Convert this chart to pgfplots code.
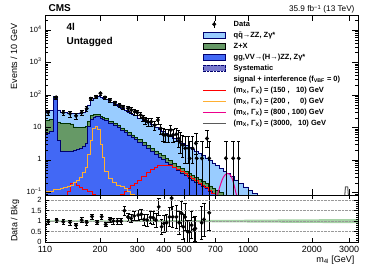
\documentclass[border=0pt]{standalone}
\usepackage{pgfplots}
\usepackage{pgfplotstable}
\pgfplotsset{compat=1.18}
\usepackage{fontspec}
\setmainfont{Liberation Sans}
\definecolor{qqc}{RGB}{153,204,255}
\definecolor{zxc}{RGB}{102,153,102}
\definecolor{ggc}{RGB}{66,104,245}
\definecolor{navyc}{RGB}{0,0,110}
\definecolor{sysc}{RGB}{120,120,205}
\definecolor{orngc}{RGB}{255,175,50}
\definecolor{bandc}{RGB}{165,210,165}
\definecolor{graysig}{RGB}{90,90,90}

\pgfplotstableread{
m T G B R O
110 0.001 0.001 0.001 0.001 0.001
110 32 17 6.8 0.05 0.11
115 33 18 7.5 0.05 0.11
120 92 86 80 0.05 0.12
126 35 15 4.0 0.05 0.12
130 30 13.7 1.9 0.05 0.13
135 30 13.5 1.8 0.07 0.14
140 28 13.5 1.8 0.11 0.15
145 28 13.0 1.9 0.19 0.17
150 27 10.5 2.0 0.20 0.20
155 27 10.3 2.1 0.16 0.24
160 28 10.3 2.3 0.14 0.30
165 30 10.5 2.6 0.12 0.40
170 36 11 3.2 0.12 0.60
175 50 16 11 0.11 1.5
180 68 23 18 0.11 4.0
185 80 25 20.5 0.09 9.5
190 88 26 21.5 0.08 10.5
195 92 26 21.5 0.05 9.0
200 86 22.5 19.6 0.05 3.0
205 80 21.0 18.3 0.05 1.2
210 71.7 18.7 16.2 0.05 0.45
220 60.9 15.8 13.8 0.05 0.28
230 52.1 13.6 11.8 0.05 0.20
240 44.9 11.6 10.1 0.05 0.17
250 39.0 9.72 8.38 0.09 0.15
260 33.8 8.20 7.02 0.11 0.13
270 29.6 6.92 5.88 0.13 0.11
280 26.2 5.96 4.99 0.16 0.09
290 23.1 5.10 4.24 0.19 0.07
300 19.9 4.21 3.48 0.24 0.05
315 16.8 3.43 2.79 0.31 0.05
330 14.3 2.81 2.26 0.40 0.05
345 12.2 2.31 1.84 0.50 0.05
360 10.4 1.92 1.51 0.59 0.05
375 9.12 1.61 1.25 0.66 0.05
390 7.80 1.36 1.05 0.69 0.05
405 6.68 1.15 0.88 0.69 0.05
420 5.67 0.96 0.727 0.66 0.05
440 4.72 0.78 0.587 0.60 0.05
460 3.95 0.645 0.479 0.53 0.05
480 3.34 0.544 0.401 0.45 0.05
500 2.85 0.462 0.336 0.38 0.05
520 2.42 0.393 0.283 0.32 0.05
540 2.09 0.338 0.241 0.27 0.05
560 1.81 0.294 0.207 0.23 0.05
580 1.57 0.255 0.179 0.195 0.05
600 1.36 0.220 0.154 0.165 0.05
625 1.16 0.187 0.131 0.14 0.05
650 0.986 0.160 0.112 0.115 0.05
675 0.82 0.137 0.0966 0.095 0.05
700 0.677 0.118 0.0826 0.08 0.05
730 0.556 0.0993 0.0697 0.065 0.05
760 0.455 0.0844 0.06 0.05 0.05
790 0.379 0.07 0.05 0.04 0.04
820 0.306 0.06 0.04 0.04 0.04
860 0.244 0.05 0.035 0.04 0.04
900 0.192 0.04 0.03 0.04 0.04
950 0.149 0.035 0.025 0.04 0.04
1000 0.116 0.03 0.02 0.04 0.04
1050 0.0918 0.025 0.018 0.04 0.04
1100 0.0738 0.02 0.015 0.04 0.04
1150 0.06 0.015 0.012 0.04 0.04
1200 0.06 0.015 0.012 0.04 0.04
1200 0.001 0.001 0.001 0.001 0.001
}\hist

\pgfplotsset{
  every axis/.append style={
    scale only axis, width=313pt,
    tick align=inside, axis on top,
    major tick length=6pt, minor tick length=3pt,
    axis line style={line width=0.8pt},
    every tick/.style={black, line width=0.5pt},
    /pgf/number format/assume math mode=true,
  },
}

\begin{document}
\begin{tikzpicture}
\path[use as bounding box] (-45pt,-73pt) rectangle (329pt,195pt);
\begin{axis}[
  name=top, at={(0pt,0pt)}, anchor=south west,
  height=180pt,
  xmode=log, ymode=log,
  xmin=110, xmax=3300, ymin=0.084, ymax=2.9e4,
  xtick={110,200,300,400,500,700,1000,2000,3000},
  xticklabels={,,,,,,,,},
  ytick={0.1,1,10,100,1000,10000},
  yticklabels={10\textsuperscript{−1},1,10,10\textsuperscript{2},10\textsuperscript{3},10\textsuperscript{4}},
  minor ytick={0.09,0.2,0.3,0.4,0.5,0.6,0.7,0.8,0.9,2,3,4,5,6,7,8,9,20,30,40,50,60,70,80,90,200,300,400,500,600,700,800,900,2000,3000,4000,5000,6000,7000,8000,9000,20000},
  yticklabel style={font=\fontsize{7.5}{8}\selectfont, yshift=1pt},
  legend style={at={(0.502,0.976)}, anchor=north west, draw=none, fill=none,
    inner sep=0pt, row sep=1.6pt, font=\bfseries\fontsize{7.5}{8}\selectfont,
    nodes={inner sep=0.8pt, text height=6pt, text depth=1.8pt}},
  legend cell align=left,
]
\addlegendimage{legend image code/.code={\draw[black] (0.4cm,-3.5pt)--(0.4cm,3.5pt); \fill[black] (0.4cm,0pt) circle (1.8pt); \path (1.05cm,0pt);}}
\addlegendentry{Data}
\addlegendimage{legend image code/.code={\draw[navyc, fill=qqc] (0cm,-3pt) rectangle (0.8cm,3pt); \path (1.05cm,0pt);}}
\addlegendentry{q\={q}→ZZ, Zγ*}
\addlegendimage{legend image code/.code={\draw[black, fill=zxc] (0cm,-3pt) rectangle (0.8cm,3pt); \path (1.05cm,0pt);}}
\addlegendentry{Z+X}
\addlegendimage{legend image code/.code={\draw[navyc, fill=ggc] (0cm,-3pt) rectangle (0.8cm,3pt); \path (1.05cm,0pt);}}
\addlegendentry{gg,VV→(H→)ZZ, Zγ*}
\addlegendimage{legend image code/.code={\draw[navyc, densely dotted, fill=sysc] (0cm,-3pt) rectangle (0.8cm,3pt); \path (1.05cm,0pt);}}
\addlegendentry{Systematic}
\addlegendimage{empty legend}
\addlegendentry{signal + interference (f\textsubscript{VBF} = 0)}
\addlegendimage{legend image code/.code={\draw[red, line width=1pt] (0cm,0pt)--(0.8cm,0pt); \path (1.05cm,0pt);}}
\addlegendentry{(m\textsubscript{X}, Γ\textsubscript{X}) = (150 , \hphantom{0}10) GeV}
\addlegendimage{legend image code/.code={\draw[orngc, line width=1pt] (0cm,0pt)--(0.8cm,0pt); \path (1.05cm,0pt);}}
\addlegendentry{(m\textsubscript{X}, Γ\textsubscript{X}) = (200 , \hphantom{00}0) GeV}
\addlegendimage{legend image code/.code={\draw[magenta, line width=1pt] (0cm,0pt)--(0.8cm,0pt); \path (1.05cm,0pt);}}
\addlegendentry{(m\textsubscript{X}, Γ\textsubscript{X}) = (800 , 100) GeV}
\addlegendimage{legend image code/.code={\draw[graysig, line width=1pt] (0cm,0pt)--(0.8cm,0pt); \path (1.05cm,0pt);}}
\addlegendentry{(m\textsubscript{X}, Γ\textsubscript{X}) = (3000, \hphantom{0}10) GeV}

\addplot[forget plot, const plot, fill=qqc, draw=navyc, line width=0.6pt] table[x=m, y=T] {\hist};
\addplot[forget plot, const plot, fill=zxc, draw=black!80!green, line width=0.6pt] table[x=m, y=G] {\hist};
\addplot[forget plot, const plot, fill=ggc, draw=navyc, line width=0.6pt] table[x=m, y=B] {\hist};
\addplot[forget plot, const plot, red, line width=1pt, skip coords between index={0}{1}] table[x=m, y=R] {\hist};
\addplot[forget plot, const plot, orngc, line width=1pt, skip coords between index={0}{1}] table[x=m, y=O] {\hist};
\addplot[forget plot, smooth, magenta, line width=1pt] coordinates {
(690,0.05)(715,0.085)(735,0.15)(755,0.25)(775,0.34)(795,0.39)(815,0.37)(835,0.3)(855,0.19)(875,0.1)(895,0.06)};
\addplot[forget plot, graysig, line width=1pt] coordinates {
(2840,0.05)(2880,0.15)(2950,0.15)(2990,0.05)};

\addplot[forget plot, only marks, mark=*, mark size=1.8pt, black,
  error bars/.cd, y dir=both, y explicit, error bar style={black, line width=0.5pt}] coordinates {
(113.6,29) +- (0,5.7)
(124,85) +- (0,9.8)
(134.2,29) +- (0,5.7)
(144.3,27) +- (0,5.5)
(154,23) +- (0,5.1)
(163.9,29) +- (0,5.7)
(173,38) +- (0,6.6)
(181,77) +- (0,9.3)
(191.5,88) +- (0,10)
(201,113) +- (0,11.3)
(211,84) +- (0,9.7)
(222.8,70) +- (0,8.9)
(235.3,58) +- (0,8.1)
(247.6,49) +- (0,7.4)
(256.7,43) +- (0,7.0)
(271,39) +- (0,6.6)
(280.8,34.6) +- (0,6.3)
(291.4,30.6) +- (0,5.9)
(299.8,29) +- (0,5.7)
(311,24.3) +- (0,5.2)
(319,20) +- (0,4.8)
(327,17) +- (0,4.4)
(336.7,15) +- (0,4.1)
(349,15) +- (0,4.1)
(362,11.9) +- (0,3.7)
(375,17) +- (0,4.4)
(386.5,9.4) +- (0,3.3)
(396,6.2) += (0,3.4) -= (0,2.5)
(406,5.9) += (0,3.3) -= (0,2.4)
(418,5.9) += (0,3.3) -= (0,2.4)
(431,8.4) += (0,3.8) -= (0,2.9)
(442,5.9) += (0,3.3) -= (0,2.4)
(458,6.2) += (0,3.4) -= (0,2.5)
(470,4.6) += (0,3.6) -= (0,2.2)
(477,3.66) += (0,3.3) -= (0,2.0)
(491,2.9) += (0,3.0) -= (0,1.7)
(505,2.3) += (0,3.0) -= (0,1.5)
(524,2.3) += (0,3.0) -= (0,1.5)
(530,1.13) += (0,2.6) -= (0,1.05)
(547,2.3) += (0,3.0) -= (0,1.5)
(567,3.26) += (0,3.4) -= (0,1.7)
(572,1.13) += (0,2.6) -= (0,1.05)
(605,1.13) += (0,2.6) -= (0,1.05)
(639,4.6) += (0,3.6) -= (0,2.2)
(655,1.13) += (0,2.6) -= (0,1.05)
(786,1.13) += (0,2.6) -= (0,1.05)
(850,1.13) += (0,2.6) -= (0,1.05)
(902,1.13) += (0,2.6) -= (0,1.05)
};
\end{axis}

\begin{axis}[
  name=bot, at={(top.south west)}, anchor=north west,
  height=47pt,
  xmode=log,
  xmin=110, xmax=3300, ymin=0, ymax=2.25,
  xtick={110,200,300,400,500,700,1000,2000,3000},
  xticklabels={110,200,300,400,500,700,1000,2000,3000},
  xticklabel style={font=\fontsize{9}{10}\selectfont, yshift=-1pt},
  ytick={0,0.5,1,1.5,2},
  minor y tick num=4,
  yticklabel style={font=\fontsize{7.5}{8}\selectfont},
  ymajorgrids, grid style={densely dotted, gray!80, line width=0.5pt},
  major tick length=4pt, minor tick length=2pt,
]
\addplot[fill=bandc, draw=none] coordinates {
(110,0.965)(300,0.96)(700,0.945)(1500,0.92)(3300,0.9)(3300,1.1)(1500,1.08)(700,1.055)(300,1.04)(110,1.035)};
\addplot[only marks, mark=*, mark size=1.8pt, black,
  error bars/.cd, y dir=both, y explicit, error bar style={black, line width=0.5pt}] coordinates {
(113.9,0.97) +- (0,0.12)
(124.9,1.05) +- (0,0.1)
(134.2,0.97) +- (0,0.12)
(144.3,0.94) +- (0,0.12)
(154,0.80) +- (0,0.12)
(163.9,1.05) +- (0,0.12)
(173,0.94) +- (0,0.12)
(183.3,1.22) +- (0,0.12)
(194.1,0.94) +- (0,0.1)
(203.6,1.21) +- (0,0.1)
(212.8,0.84) +- (0,0.1)
(222.8,1.08) +- (0,0.12)
(231,1.0) +- (0,0.13)
(241.3,1.0) +- (0,0.14)
(251,1.0) +- (0,0.15)
(260.8,1.5) +- (0,0.2)
(271,1.2) +- (0,0.2)
(280.3,1.13) +- (0,0.2)
(290,1.25) +- (0,0.22)
(303,1.29) +- (0,0.24)
(313,1.33) +- (0,0.26)
(322.4,1.08) +- (0,0.26)
(334,1.05) +- (0,0.28)
(346,1.18) +- (0,0.3)
(356.7,1.16) +- (0,0.32)
(367,1.05) +- (0,0.35)
(378.6,1.68) +- (0,0.4)
(390.7,0.73) +- (0,0.35)
(400.6,0.89) +- (0,0.4)
(412.5,0.92) +- (0,0.42)
(425.3,1.2) +- (0,0.45)
(435.6,2.1) +- (0,0.6)
(440.4,1.2) +- (0,0.5)
(459,1.2) +- (0,0.55)
(473,0.92) +- (0,0.55)
(485.6,1.37) +- (0,0.6)
(494,0.73) +- (0,0.6)
(504,1.2) +- (0,0.65)
(518,0.49) +- (0,0.55)
(527,0.49) +- (0,0.55)
(541,0.81) +- (0,0.65)
(555,0.6) +- (0,0.6)
(563,0.65) +- (0,0.6)
(603.6,0.92) +- (0,0.8)
(618.5,1.08) +- (0,0.8)
(655,1.4) +- (0,0.85)
};
\end{axis}

\node[anchor=base west, font=\bfseries\fontsize{10}{11}\selectfont] at ([yshift=3pt]top.north west) {CMS};
\node[anchor=base east, font=\fontsize{8.2}{9}\selectfont] at ([yshift=3pt]top.north east) {35.9 fb\textsuperscript{−1} (13 TeV)};
\node[anchor=base west, font=\bfseries\fontsize{10}{11}\selectfont] at ([xshift=18pt, yshift=-15pt]top.north west) {4l};
\node[anchor=base west, font=\bfseries\fontsize{10}{11}\selectfont] at ([xshift=18pt, yshift=-29pt]top.north west) {Untagged};
\node[rotate=90, anchor=east, font=\fontsize{9}{10}\selectfont] at ([xshift=-31pt, yshift=-5pt]top.north west) {Events / 10 GeV};
\node[rotate=90, font=\fontsize{9}{10}\selectfont] at ([xshift=-30pt, yshift=-2pt]bot.west) {Data / Bkg};
\node[anchor=base east, font=\fontsize{9}{10}\selectfont] at ([yshift=-20pt]bot.south east) {m\textsubscript{4l} [GeV]};
\end{tikzpicture}
\end{document}
